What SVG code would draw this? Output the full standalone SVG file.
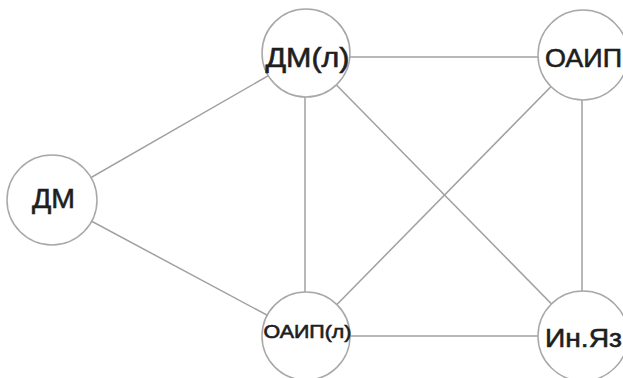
<svg xmlns="http://www.w3.org/2000/svg" width="623" height="378" viewBox="0 0 623 378">
<style>
.n{fill:#fff;stroke:#a8a8a8;stroke-width:1.5}
.e{stroke:#a0a0a0;stroke-width:1.5;fill:none}
text{font-family:"Liberation Sans",Arial,sans-serif;fill:#1e1e1e;stroke:#1e1e1e;stroke-width:0.6;text-anchor:middle}
</style>
<rect width="623" height="378" fill="#fff"/>
<g id="edges">
<line class="e" x1="52" y1="200" x2="306" y2="54"/>
<line class="e" x1="52" y1="200" x2="306" y2="336"/>
<line class="e" x1="306" y1="57" x2="583" y2="57"/>
<line class="e" x1="305" y1="54" x2="305" y2="336"/>
<line class="e" x1="306" y1="54" x2="583" y2="336"/>
<line class="e" x1="583" y1="54" x2="306" y2="336"/>
<line class="e" x1="582" y1="54" x2="582" y2="336"/>
<line class="e" x1="306" y1="336" x2="583" y2="336"/>
</g>
<g id="n_dm"><circle class="n" cx="52" cy="200" r="45"/><text x="53.5" y="208" font-size="28" textLength="43" lengthAdjust="spacingAndGlyphs">ДМ</text></g>
<g id="n_dml"><circle class="n" cx="306" cy="53" r="44"/><text x="307.5" y="67" font-size="27" textLength="84" lengthAdjust="spacingAndGlyphs">ДМ(л)</text></g>
<g id="n_oaip"><circle class="n" cx="583" cy="55" r="45"/><text x="583.5" y="67" font-size="26.5" textLength="77" lengthAdjust="spacingAndGlyphs">ОАИП</text></g>
<g id="n_oaipl"><circle class="n" cx="306" cy="336" r="44"/><text x="307.5" y="338" font-size="18" textLength="88" lengthAdjust="spacingAndGlyphs">ОАИП(л)</text></g>
<g id="n_in"><circle class="n" cx="583" cy="336" r="45"/><text x="583.5" y="347" font-size="26.5" textLength="77" lengthAdjust="spacingAndGlyphs">Ин.Яз</text></g>
</svg>
